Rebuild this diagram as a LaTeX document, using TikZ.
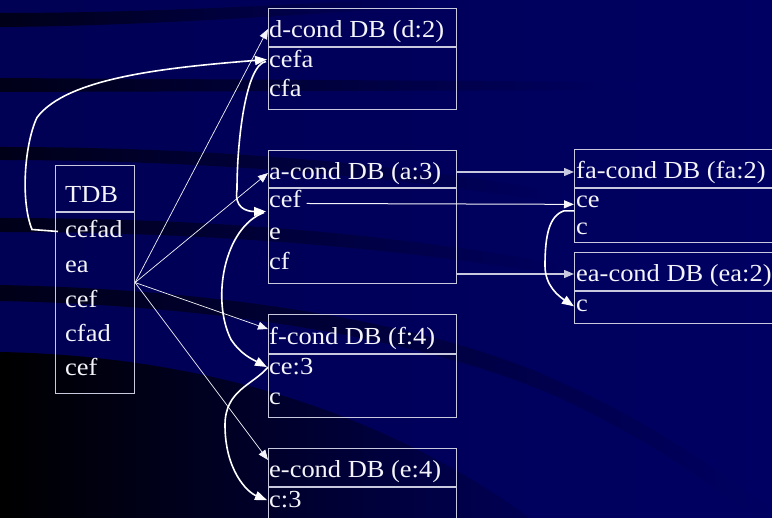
\documentclass[tikz,border=0pt]{standalone}
\usepackage{fontspec}
\setmainfont[FakeStretch=1.08]{Liberation Serif}
\usetikzlibrary{arrows.meta}
\definecolor{bgnavy}{RGB}{0,0,98}
\definecolor{bgleft}{RGB}{0,0,84}
\definecolor{banddark}{RGB}{0,0,24}
\definecolor{framec}{RGB}{200,200,222}
\definecolor{inkc}{RGB}{244,244,250}
\tikzset{
  dbbox/.style={draw=framec, line width=1.1pt, inner sep=0pt, anchor=north west},
  sepline/.style={draw=framec, line width=1.1pt},
  txt/.style={inner sep=0pt, anchor=base west, text=inkc, font=\fontsize{24.5}{28}\selectfont},
  fanline/.style={draw=inkc, line width=0.7pt, -{Triangle[length=10pt,width=8pt]}},
  linkline/.style={draw=framec, line width=1.3pt, -{Triangle[length=10pt,width=8pt]}},
  cefline/.style={draw=inkc, line width=1pt, -{Triangle[length=10pt,width=8pt]}},
  handcurve/.style={draw=white, line width=1.6pt, -{Triangle[length=12pt,width=9pt]}},
}
\begin{document}
\begin{tikzpicture}[x=1pt,y=-1pt]
\useasboundingbox (0,0) rectangle (772,518);
% background
\shade[left color=bgleft, right color=bgnavy] (0,0) rectangle (772,518);
\shade[left color=banddark, right color=bgnavy] (0,13) .. controls (150,13) and (300,4) .. (450,-4) -- (450,6) .. controls (300,14) and (150,26) .. (0,27) -- cycle;
\shade[left color=banddark, right color=bgnavy] (0,78) -- (640,82) -- (640,90) -- (0,92) -- cycle;
\shade[left color=banddark, right color=bgnavy] (0,147) .. controls (200,147) and (400,162) .. (580,196) -- (580,206) .. controls (400,176) and (200,160) .. (0,160) -- cycle;
\shade[left color=banddark, right color=bgnavy] (0,218) .. controls (200,218) and (400,232) .. (600,272) -- (600,282) .. controls (400,246) and (200,232) .. (0,232) -- cycle;
\shade[left color=banddark, right color=bgnavy] (0,285) .. controls (250,290) and (450,330) .. (560,382) .. controls (650,422) and (720,470) .. (772,512) -- (772,530) .. controls (720,490) and (650,440) .. (560,398) .. controls (450,348) and (250,306) .. (0,301) -- cycle;
\shade[left color=black, right color=bgleft] (0,352) .. controls (200,356) and (380,410) .. (530,518) -- (0,518) -- cycle;

% boxes
\node[dbbox, minimum width=79pt, minimum height=228pt] (tdb) at (55,165) {};
\node[dbbox, minimum width=188pt, minimum height=101pt] (dbox) at (268,8) {};
\node[dbbox, minimum width=188pt, minimum height=133pt] (abox) at (268,150) {};
\node[dbbox, minimum width=188pt, minimum height=103pt] (fbox) at (268,314) {};
\node[dbbox, minimum width=188pt, minimum height=100pt] (ebox) at (268,448) {};
\node[dbbox, minimum width=230pt, minimum height=93pt] (fabox) at (574,149) {};
\node[dbbox, minimum width=230pt, minimum height=71pt] (eabox) at (574,252) {};
\draw[sepline] ([yshift=-47pt]tdb.north west) -- ([yshift=-47pt]tdb.north east);
\draw[sepline] ([yshift=-39pt]dbox.north west) -- ([yshift=-39pt]dbox.north east);
\draw[sepline] ([yshift=-38pt]abox.north west) -- ([yshift=-38pt]abox.north east);
\draw[sepline] ([yshift=-40pt]fbox.north west) -- ([yshift=-40pt]fbox.north east);
\draw[sepline] ([yshift=-39pt]ebox.north west) -- ([yshift=-39pt]ebox.north east);
\draw[sepline] ([yshift=-39pt]fabox.north west) -- ([yshift=-39pt]fabox.north east);
\draw[sepline] ([yshift=-39pt]eabox.north west) -- ([yshift=-39pt]eabox.north east);

% texts
\node[txt] (t0) at (65,203) {TDB};
\node[txt] (t1) at (65,238) {cefad};
\node[txt] (t2) at (65,273) {ea};
\node[txt] (t3) at (65,308) {cef};
\node[txt] (t4) at (65,342) {cfad};
\node[txt] (t5) at (65,376) {cef};
\node[txt] (d0) at (269,38) {d-cond DB (d:2)};
\node[txt] (d1) at (269,68) {cefa};
\node[txt] (d2) at (269,97) {cfa};
\node[txt] (a0) at (269,180) {a-cond DB (a:3)};
\node[txt] (a1) at (269,208) {cef};
\node[txt] (a2) at (269,240) {e};
\node[txt] (a3) at (269,270) {cf};
\node[txt] (f0) at (269,345) {f-cond DB (f:4)};
\node[txt] (f1) at (269,375) {ce:3};
\node[txt] (f2) at (269,405) {c};
\node[txt] (e0) at (269,478) {e-cond DB (e:4)};
\node[txt] (e1) at (269,508) {c:3};
\node[txt] (fa0) at (576,179) {fa-cond DB (fa:2)};
\node[txt] (fa1) at (576,208) {ce};
\node[txt] (fa2) at (576,235) {c};
\node[txt] (ea0) at (576,282) {ea-cond DB (ea:2)};
\node[txt] (ea1) at (576,312) {c};

% fan from TDB
\coordinate (hub) at ([yshift=-3pt]tdb.east);
\draw[fanline] (hub) -- ([yshift=-21pt]dbox.north west);
\draw[fanline] (hub) -- ([yshift=-23pt]abox.north west);
\draw[fanline] (hub) -- ([yshift=-15pt]fbox.north west);
\draw[fanline] (hub) -- ([yshift=-12pt]ebox.north west);

% a-cond to fa/ea
\draw[linkline] ([yshift=-22pt]abox.north east) -- ([yshift=-23pt]fabox.north west);
\draw[cefline] ([xshift=5pt,yshift=-4pt]a1.east) -- ([xshift=-2pt,yshift=-2pt]fa1.west);
\draw[linkline] ([yshift=-124pt]abox.north east) -- ([yshift=-22pt]eabox.north west);

% hand-drawn curves
\draw[handcurve] ([xshift=-7pt,yshift=-2pt]t1.west) -- ++(-26,-2)
  .. controls +(-12,-30) and +(-12,25) .. ++(5,-112)
  .. controls +(30,-40) and +(-100,8) .. ([xshift=-2pt]d1.west);
\draw[handcurve] ([xshift=-3pt,yshift=-2pt]d1.west)
  .. controls +(-20,3) and +(0,-50) .. ++(-29,128)
  .. controls +(-3,18) and +(-20,0) .. ([xshift=-3pt,yshift=-12pt]a1.west);
\draw[handcurve] ([xshift=-5pt,yshift=-13pt]a1.west)
  .. controls +(-40,15) and +(-20,-40) .. ++(-33,127)
  .. controls +(10,15) and +(-15,-8) .. ([xshift=-2pt]f1.west);
\draw[handcurve] ([xshift=-1pt]f1.west)
  .. controls +(-15,18) and +(0,-35) .. ++(-43,58)
  .. controls +(0,45) and +(-20,-8) .. ([xshift=-2pt]e1.west);
\draw[handcurve] ([xshift=-2pt,yshift=-8.5pt]fa1.west) -- ++(-10,0)
  .. controls +(-15,5) and +(0,-30) .. ++(-19,55)
  .. controls +(0,20) and +(-15,-10) .. ([xshift=-2pt]ea1.west);
\end{tikzpicture}
\end{document}
